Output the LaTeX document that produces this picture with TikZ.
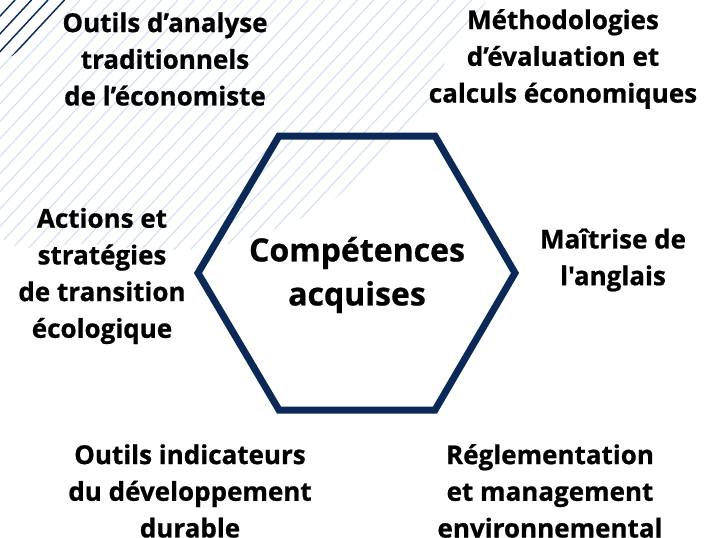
\documentclass[tikz,border=0pt]{standalone}
\usepackage{fontspec}
\setmainfont{Open Sans}[Ligatures=TeXOff, BoldFeatures={FakeBold=0.8}]
\definecolor{navy}{HTML}{0B2957}
\definecolor{hatch}{HTML}{D5E3F4}
\tikzset{
  lbl/.style={align=center, font=\fontsize{26}{36.7}\selectfont\bfseries, text=black, inner sep=0pt},
  biglbl/.style={align=center, font=\fontsize{32}{44}\selectfont\bfseries, text=black, inner sep=0pt},
  hexline/.style={draw=navy, line width=7pt, line join=miter},
  lighthatch/.style={draw=hatch, line width=1.3pt},
  darkhatch/.style={draw=navy, line width=1.4pt}
}
\begin{document}
\begin{tikzpicture}[x=1pt,y=-1pt]
\useasboundingbox (0,0) rectangle (707,538);
% light hatching
\begin{scope}
  \clip plot[smooth cycle] coordinates {(-5,-5) (463,-5) (446,60) (420,113) (333,200) (250,238) (180,250) (90,244) (-5,228)};
  \foreach \k in {0,...,40} {
    \draw[lighthatch] ({15+16.3*\k},0) -- ({15+16.3*\k-0.93*400},400);
  }
\end{scope}
% dark hatching in the corner
\begin{scope}
  \clip (0,0) -- (80,0) -- (12,56) -- (0,56) -- cycle;
  \foreach \k in {0,...,3} {
    \draw[darkhatch] ({15+16.5*\k},0) -- ({15+16.5*\k-0.93*80},80);
  }
\end{scope}
% hexagon
\coordinate (h1) at (279,136);
\coordinate (h2) at (435,136);
\coordinate (h3) at (515,273);
\coordinate (h4) at (435,410);
\coordinate (h5) at (279,410);
\coordinate (h6) at (198,273);
\draw[hexline] (h1) -- (h2) -- (h3) -- (h4) -- (h5) -- (h6) -- cycle;
% labels
\node[biglbl] (center) at (357,275) {Compétences\\acquises};
\node[lbl] (tl) at (165,59) {Outils d’analyse\\traditionnels\\de l’économiste};
\node[lbl] (tr) at (563,59) {Méthodologies\\d’évaluation et\\calculs économiques};
\node[lbl] (ml) at (102,276) {Actions et\\stratégies\\de transition\\écologique};
\node[lbl] (mr) at (613,260) {Maîtrise de\\l'anglais};
\node[lbl] (bl) at (190,491) {Outils indicateurs\\du développement\\durable};
\node[lbl] (br) at (550,491) {Réglementation\\et management\\environnemental};
\end{tikzpicture}
\end{document}
